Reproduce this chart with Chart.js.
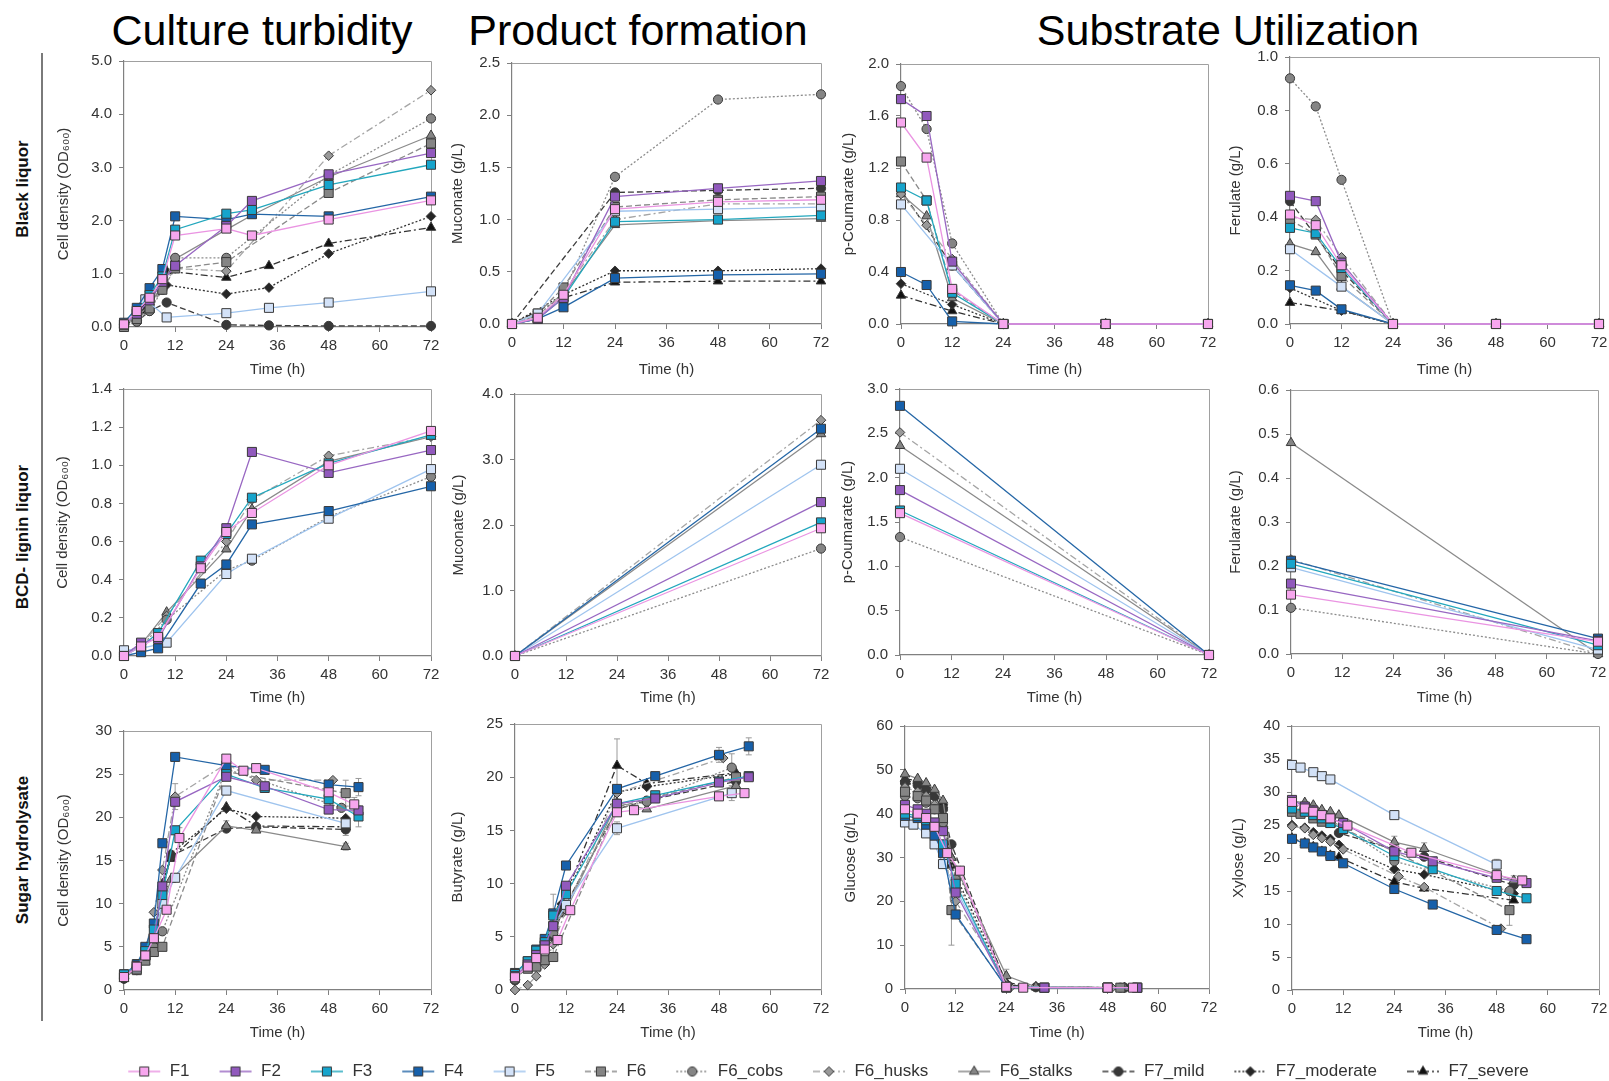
<!DOCTYPE html>
<html><head><meta charset="utf-8">
<script src="https://cdn.jsdelivr.net/npm/chart.js@4.4.1/dist/chart.umd.min.js"></script>
<style>
html,body{margin:0;padding:0;background:#fff}
body{width:1609px;height:1081px;position:relative;overflow:hidden;font-family:"Liberation Sans",Arial,sans-serif}
.ttl{position:absolute;top:9px;font-size:43px;line-height:43px;color:#000;white-space:nowrap;transform:translateX(-50%)}
.row{position:absolute;left:23px;font-weight:bold;font-size:17px;color:#111;white-space:nowrap;transform:translate(-50%,-50%) rotate(-90deg)}
.sep{position:absolute;left:41px;top:53px;width:1.5px;height:968px;background:#7a7a7a}
canvas{position:absolute}
</style></head>
<body>
<div class="ttl" style="left:262px">Culture turbidity</div>
<div class="ttl" style="left:638px">Product formation</div>
<div class="ttl" style="left:1228px">Substrate Utilization</div>
<div class="row" style="top:189px">Black liquor</div>
<div class="row" style="top:537px">BCD- lignin liquor</div>
<div class="row" style="top:850px">Sugar hydrolysate</div>
<div class="sep"></div>
<script>
// ---------------- DATA ----------------
const SERIES = ['F1','F2','F3','F4','F5','F6','F6_cobs','F6_husks','F6_stalks','F7_mild','F7_moderate','F7_severe'];
const TIME_MAX = 72, TIME_STEP = 12;

// Black liquor - cell density (OD600)
const BL_OD = {
 F1:[[0,0.05],[3,0.3],[6,0.55],[9,0.9],[12,1.72],[24,1.85],[30,1.72],[48,2.02],[72,2.38]],
 F2:[[0,0.05],[3,0.25],[6,0.5],[9,0.85],[12,1.15],[24,1.9],[30,2.37],[48,2.87],[72,3.27]],
 F3:[[0,0.05],[3,0.3],[6,0.6],[9,0.95],[12,1.83],[24,2.13],[30,2.2],[48,2.67],[72,3.05]],
 F4:[[0,0.08],[3,0.36],[6,0.73],[9,1.09],[12,2.08],[24,2.02],[30,2.12],[48,2.08],[72,2.45]],
 F5:[[0,0.05],[3,0.25],[5,0.52],[10,0.18],[24,0.26],[34,0.36],[48,0.46],[72,0.67]],
 F6:[[0,0.0],[3,0.15],[6,0.35],[9,0.7],[12,1.1],[24,1.22],[48,2.52],[72,3.45]],
 F6_cobs:[[0,0.0],[3,0.1],[6,0.3],[9,0.7],[12,1.3],[24,1.3],[48,2.85],[72,3.92]],
 F6_husks:[[0,0.0],[3,0.12],[6,0.35],[9,0.75],[12,1.1],[24,1.05],[48,3.22],[72,4.45]],
 F6_stalks:[[0,0.05],[3,0.2],[6,0.4],[9,0.8],[12,1.28],[24,1.83],[30,2.1],[48,2.82],[72,3.6]],
 F7_mild:[[0,0.05],[3,0.1],[6,0.3],[10,0.46],[24,0.04],[34,0.03],[48,0.02],[72,0.02]],
 F7_moderate:[[0,0.05],[3,0.15],[5,0.4],[10,0.79],[24,0.62],[34,0.74],[48,1.38],[72,2.08]],
 F7_severe:[[0,0.05],[3,0.15],[5,0.3],[10,1.05],[24,0.93],[34,1.15],[48,1.57],[72,1.87]]
};
// Black liquor - muconate (g/L)
const BL_MUC = {
 F1:[[0,0],[6,0.06],[12,0.28],[24,1.1],[48,1.17],[72,1.19]],
 F2:[[0,0],[6,0.05],[12,0.25],[24,1.22],[48,1.3],[72,1.37]],
 F3:[[0,0],[6,0.05],[12,0.25],[24,0.98],[48,1.0],[72,1.04]],
 F4:[[0,0],[6,0.05],[12,0.16],[24,0.44],[48,0.47],[72,0.48]],
 F5:[[0,0],[6,0.1],[24,1.08],[48,1.1],[72,1.12]],
 F6:[[0,0],[6,0.1],[12,0.35],[24,1.12],[48,1.19],[72,1.22]],
 F6_cobs:[[0,0],[6,0.08],[12,0.3],[24,1.41],[48,2.15],[72,2.2]],
 F6_husks:[[0,0],[6,0.08],[12,0.3],[24,1.0],[48,1.15],[72,1.15]],
 F6_stalks:[[0,0],[6,0.05],[12,0.28],[24,0.95],[48,0.99],[72,1.01]],
 F7_mild:[[0,0],[24,1.26],[48,1.28],[72,1.3]],
 F7_moderate:[[0,0],[12,0.28],[24,0.51],[48,0.51],[72,0.53]],
 F7_severe:[[0,0],[12,0.25],[24,0.4],[48,0.41],[72,0.41]]
};
// Black liquor - p-coumarate (g/L)
const BL_PCA = {
 F1:[[0,1.55],[6,1.28],[12,0.27],[24,0],[48,0],[72,0]],
 F2:[[0,1.73],[6,1.6],[12,0.48],[24,0],[48,0],[72,0]],
 F3:[[0,1.05],[6,0.95],[12,0.24],[24,0],[48,0],[72,0]],
 F4:[[0,0.4],[6,0.3],[12,0.02],[24,0],[48,0],[72,0]],
 F5:[[0,0.92],[12,0.45],[24,0],[48,0],[72,0]],
 F6:[[0,1.25],[6,0.95],[12,0.26],[24,0],[48,0],[72,0]],
 F6_cobs:[[0,1.83],[6,1.5],[12,0.62],[24,0],[48,0],[72,0]],
 F6_husks:[[0,1.0],[6,0.76],[12,0.5],[24,0],[48,0],[72,0]],
 F6_stalks:[[0,1.0],[6,0.83],[12,0.2],[24,0],[48,0],[72,0]],
 F7_mild:[[0,1.03],[12,0.45],[24,0],[48,0],[72,0]],
 F7_moderate:[[0,0.31],[12,0.15],[24,0],[48,0],[72,0]],
 F7_severe:[[0,0.22],[12,0.1],[24,0],[48,0],[72,0]]
};
// Black liquor - ferulate (g/L)
const BL_FER = {
 F1:[[0,0.41],[6,0.37],[12,0.22],[24,0],[48,0],[72,0]],
 F2:[[0,0.48],[6,0.46],[12,0.23],[24,0],[48,0],[72,0]],
 F3:[[0,0.36],[6,0.34],[12,0.21],[24,0],[48,0],[72,0]],
 F4:[[0,0.145],[6,0.125],[12,0.055],[24,0],[48,0],[72,0]],
 F5:[[0,0.28],[12,0.14],[24,0],[48,0],[72,0]],
 F6:[[0,0.39],[6,0.335],[12,0.18],[24,0],[48,0],[72,0]],
 F6_cobs:[[0,0.92],[6,0.815],[12,0.54],[24,0],[48,0],[72,0]],
 F6_husks:[[0,0.4],[6,0.39],[12,0.25],[24,0],[48,0],[72,0]],
 F6_stalks:[[0,0.3],[6,0.27],[12,0.14],[24,0],[48,0],[72,0]],
 F7_mild:[[0,0.46],[12,0.2],[24,0],[48,0],[72,0]],
 F7_moderate:[[0,0.135],[12,0.05],[24,0],[48,0],[72,0]],
 F7_severe:[[0,0.08],[12,0.05],[24,0],[48,0],[72,0]]
};
// BCD lignin liquor - cell density
const BCD_OD = {
 F1:[[0,0.0],[4,0.05],[8,0.1],[18,0.46],[24,0.65],[30,0.75],[48,1.0],[72,1.18]],
 F2:[[0,0.0],[4,0.07],[8,0.09],[18,0.47],[24,0.67],[30,1.07],[48,0.96],[72,1.08]],
 F3:[[0,0.0],[4,0.05],[8,0.12],[18,0.5],[24,0.64],[30,0.83],[48,1.01],[72,1.16]],
 F4:[[0,0.0],[4,0.02],[8,0.04],[18,0.38],[24,0.48],[30,0.69],[48,0.76],[72,0.89]],
 F5:[[0,0.03],[4,0.04],[10,0.07],[24,0.43],[30,0.51],[48,0.72],[72,0.98]],
 F6_cobs:[[0,0.01],[4,0.05],[10,0.19],[24,0.45],[30,0.5],[48,0.73],[72,0.94]],
 F6_husks:[[0,0.01],[4,0.06],[10,0.21],[24,0.6],[30,0.82],[48,1.05],[72,1.15]],
 F6_stalks:[[0,0.01],[4,0.06],[10,0.23],[24,0.56],[30,0.77],[48,1.02],[72,1.15]]
};
// BCD lignin liquor - muconate
const BCD_MUC = {
 F1:[[0,0],[72,1.95]], F2:[[0,0],[72,2.35]], F3:[[0,0],[72,2.04]], F4:[[0,0],[72,3.47]],
 F5:[[0,0],[72,2.92]], F6_cobs:[[0,0],[72,1.64]], F6_husks:[[0,0],[72,3.6]], F6_stalks:[[0,0],[72,3.39]]
};
// BCD lignin liquor - p-coumarate
const BCD_PCA = {
 F1:[[0,1.6],[72,0]], F2:[[0,1.86],[72,0]], F3:[[0,1.63],[72,0]], F4:[[0,2.81],[72,0]],
 F5:[[0,2.1],[72,0]], F6_cobs:[[0,1.33],[72,0]], F6_husks:[[0,2.51],[72,0]], F6_stalks:[[0,2.36],[72,0]]
};
// BCD lignin liquor - ferulate
const BCD_FER = {
 F1:[[0,0.135],[72,0.028]], F2:[[0,0.16],[72,0.03]], F3:[[0,0.205],[72,0.02]], F4:[[0,0.212],[72,0.035]],
 F5:[[0,0.197],[72,0.01]], F6_cobs:[[0,0.105],[72,0]], F6_husks:[[0,0.215],[72,0]], F6_stalks:[[0,0.48],[72,0]]
};
// Sugar hydrolysate - cell density
const SH_OD = {
 F1:[[0,1.5],[3,2.7],[5,4],[7,6],[10,9.3],[13,17.6],[24,26.8],[28,25.4],[31,25.7],[48,22.9],[54,21.5]],
 F2:[[0,1.5],[3,2.8],[5,4],[7,6],[9,12],[12,21.8],[24,24.7],[33,23.6],[48,20.9],[55,20.8]],
 F3:[[0,1.8],[3,2.8],[5,4.5],[7,7],[9,11],[12,18.5],[24,25],[33,23.4],[48,22.1],[55,20.1]],
 F4:[[0,1.8],[3,3.0],[5,5.0],[7,7.7],[9,17.0],[12,27.0],[24,26.0],[33,25.5],[48,23.8],[55,23.5]],
 F5:[[0,1.8],[3,2.5],[5,4],[7,6],[9,10],[12,13],[24,23.1],[52,19.3]],
 F6:[[0,1.5],[3,2.3],[5,3.4],[7,4.4],[9,5.0],[24,25.3],[52,22.8]],
 F6_cobs:[[0,1.5],[3,2.3],[5,3.5],[7,5],[9,6.8],[24,25.6],[51,21.1]],
 F6_husks:[[0,1.5],[3,2.5],[5,4.5],[7,9.0],[9,13.9],[12,22.4],[24,26.2],[31,24.3],[49,24.3]],
 F6_stalks:[[0,1.5],[3,2.3],[5,3.3],[7,5],[9,9.8],[11,12.8],[24,19],[31,18.5],[52,16.6]],
 F7_mild:[[0,1.3],[3,2.6],[5,3.8],[7,5.8],[9,11.5],[11,15.5],[24,18.7],[31,18.9],[52,18.6]],
 F7_moderate:[[0,1.3],[3,2.6],[5,3.9],[7,5.9],[9,12],[11,15.8],[24,21],[31,20.1],[52,19.9]],
 F7_severe:[[0,1.3],[3,2.7],[5,3.9],[7,6],[9,12.3],[11,15.2],[24,21.2],[31,19],[52,18.9]]
};
const SH_OD_ERR = {
 F1:[[13,1.2],[54,0.8]], F6_husks:[[12,1.5]], F4:[[55,1.0]], F3:[[55,1.2]], F6:[[52,1.5]], F6_stalks:[[24,0.6],[52,0.4]], F7_mild:[[52,0.7]]
};
// Sugar hydrolysate - butyrate
const SH_BUT = {
 F1:[[0,1.2],[3,2.2],[5,3],[7,3.8],[10,4.7],[13,7.5],[24,16.7],[28,16.9],[48,18.2],[54,18.5]],
 F2:[[0,1.3],[3,2.4],[5,3.3],[7,4.2],[9,6],[12,9.8],[24,17.5],[33,18],[48,19.5],[55,20]],
 F3:[[0,1.5],[3,2.7],[5,3.7],[7,4.5],[9,7],[12,9],[24,17.5],[33,18.3],[48,19.6],[55,20.1]],
 F4:[[0,1.6],[3,2.7],[5,3.8],[7,4.8],[9,7.2],[12,11.7],[24,18.9],[33,20.1],[48,22.1],[55,22.9]],
 F5:[[0,1.2],[5,3],[9,6],[12,8],[24,15.2],[51,18.5]],
 F6:[[0,1.5],[3,2.0],[5,2.2],[7,2.8],[9,3.1],[24,17.2],[52,20]],
 F6_cobs:[[0,1],[3,2.2],[5,3],[7,4],[9,5.3],[12,8],[24,17],[31,17.7],[51,20.9]],
 F6_husks:[[0,0],[3,0.46],[5,1.3],[7,2.4],[9,4.3],[12,7.5],[24,18.5],[49,21.8]],
 F6_stalks:[[0,1.2],[3,2],[5,2.8],[7,4],[9,6.2],[12,7.5],[24,17.6],[31,17],[52,19.2]],
 F7_mild:[[0,0.9],[3,2.3],[5,3],[7,4.5],[9,5],[11,7.3],[24,17],[31,17.8],[52,19.6]],
 F7_moderate:[[0,1],[3,2.4],[5,3.2],[7,4.4],[9,5.8],[11,8.1],[24,18.6],[31,19.1],[52,20.3]],
 F7_severe:[[0,1],[3,2.3],[5,3.2],[7,4.2],[9,6],[11,8],[24,21.1],[31,19.4],[52,20.4]]
};
const SH_BUT_ERR = {
 F7_severe:[[24,2.5]], F6_stalks:[[9,2.8]], F4:[[48,0.7],[55,0.8]], F6_cobs:[[51,1.3]], F5:[[24,0.6],[51,0.7]]
};
// Sugar hydrolysate - glucose
const SH_GLC = {
 F1:[[0,41],[3,40],[5,39],[7,37],[10,31],[13,27],[24,0.5],[28,0.3],[48,0.3],[54,0.3]],
 F2:[[0,42],[3,41],[5,40],[7,38],[9,36],[12,22],[24,0.4],[33,0.3],[48,0.3],[55,0.3]],
 F3:[[0,40],[3,39.5],[5,38.5],[7,37],[9,33],[12,24],[24,0.4],[33,0.3],[48,0.3],[55,0.3]],
 F4:[[0,39.5],[3,39],[5,37.5],[7,35],[9,31],[12,17],[24,0.3],[33,0.3],[48,0.3],[55,0.3]],
 F5:[[0,38],[2,37.5],[5,35.5],[7,33],[9,28.5],[24,0.5],[48,0.3]],
 F6:[[0,45],[3,44],[5,43],[7,41],[9,39],[11,18],[24,0.5],[51,0.3]],
 F6_cobs:[[0,44],[3,43.5],[5,42.5],[7,41],[9,38],[12,25],[24,0.5],[51,0.3]],
 F6_husks:[[0,46],[3,45],[5,44],[7,42],[9,37],[12,20],[25,0.4],[49,0.3]],
 F6_stalks:[[0,49],[3,48],[5,47],[7,45.5],[9,43],[11,30],[24,3],[31,0.5],[52,0.3]],
 F7_mild:[[0,47],[3,46.5],[5,45.5],[7,44],[9,41],[11,33],[24,1],[31,0.4],[52,0.3]],
 F7_moderate:[[0,47.5],[3,47],[5,46],[7,44.5],[9,42],[11,28],[24,1],[31,0.4],[52,0.3]],
 F7_severe:[[0,48],[3,47.5],[5,46.5],[7,45],[9,42],[11,30],[24,1.5],[31,0.4],[52,0.3]]
};
const SH_GLC_ERR = { F6:[[11,8]], F6_stalks:[[24,1.5]] };
// Sugar hydrolysate - xylose
const SH_XYL = {
 F1:[[0,28.5],[3,27.5],[5,27],[7,26.5],[9,26],[13,24.9],[28,20.8],[48,17.4],[54,16.6]],
 F2:[[0,28.8],[3,27.8],[5,27.2],[7,26.5],[9,26],[12,25.3],[24,21],[33,19.5],[48,17],[55,16.2]],
 F3:[[0,27.5],[3,27],[5,26.5],[7,26],[9,25.3],[12,24.4],[24,20.3],[33,18.3],[48,15],[55,13.9]],
 F4:[[0,22.9],[3,22.2],[5,21.6],[7,21],[9,20.3],[12,19.2],[24,15.3],[33,12.95],[48,9.1],[55,7.7]],
 F5:[[0,34.1],[2,33.7],[5,33],[7,32.4],[9,31.9],[24,26.5],[48,19]],
 F6:[[0,27],[2,26.7],[5,26],[7,25.5],[9,25.3],[24,21],[51,12.1]],
 F6_cobs:[[0,28],[3,27.5],[5,27.2],[7,26.5],[9,25.8],[24,19.5],[51,15]],
 F6_husks:[[0,24.8],[3,24.5],[5,23.5],[7,23],[9,22.5],[12,21.3],[25,17.2],[31,15.6],[49,9.3]],
 F6_stalks:[[0,28.6],[3,28.4],[5,28],[7,27.3],[9,27],[11,26.5],[24,22.4],[31,21.4],[52,16.6]],
 F7_mild:[[0,27.9],[3,27.8],[5,27.4],[7,26.8],[9,26],[11,23.8],[24,21.3],[31,20.2],[52,15.9]],
 F7_moderate:[[0,25],[3,24.6],[5,23.9],[7,23.4],[9,22.9],[11,22],[24,18.3],[31,17.5],[52,14.6]],
 F7_severe:[[0,23],[3,22.3],[5,21.7],[7,21],[9,20.4],[11,20.1],[24,16.4],[31,15.4],[52,13.6]]
};
const SH_XYL_ERR = { F6:[[51,2.3]], F5:[[48,0.8]], F6_stalks:[[24,0.9],[31,0.9],[52,0.7]] };

// ---------------- STYLES ----------------
const STYLE = {
 F1:{line:'#ea94e2', fill:'#f7a6ee', shape:'rect', r:6.4, dash:[]},
 F2:{line:'#9867c2', fill:'#9159bd', shape:'rect', r:6.4, dash:[]},
 F3:{line:'#22a7bd', fill:'#16a4cc', shape:'rect', r:6.4, dash:[]},
 F4:{line:'#2466a6', fill:'#1660ab', shape:'rect', r:6.4, dash:[]},
 F5:{line:'#9fc4ee', fill:'#d3e2f8', shape:'rect', r:6.4, dash:[]},
 F6:{line:'#8a8a8a', fill:'#858585', shape:'rect', r:6.4, dash:[6,3]},
 F6_cobs:{line:'#8c8c8c', fill:'#858585', shape:'circle', r:4.6, dash:[2,2]},
 F6_husks:{line:'#a5a5a5', fill:'#999999', shape:'rectRot', r:4.8, dash:[7,3,2,3]},
 F6_stalks:{line:'#8a8a8a', fill:'#858585', shape:'triangle', r:5.5, dash:[]},
 F7_mild:{line:'#3d3d3d', fill:'#383838', shape:'circle', r:4.6, dash:[6,3]},
 F7_moderate:{line:'#333333', fill:'#262626', shape:'rectRot', r:4.8, dash:[2,2]},
 F7_severe:{line:'#333333', fill:'#111111', shape:'triangle', r:5.5, dash:[7,3,2,3]}
};
const FONT = "'Liberation Sans', Arial, sans-serif";
const TXT = '#333';

const PANELS = [
 {d:BL_OD,  l:124, t:57,  r:431,  b:327, max:5.0, step:1.0, dec:1, title:'Cell density (OD₆₀₀)', yw:73, xh:56},
 {d:BL_MUC, l:512, t:59,  r:821,  b:324, max:2.5, step:0.5, dec:1, title:'Muconate (g/L)', yw:67, xh:59},
 {d:BL_PCA, l:901, t:60,  r:1208, b:324, max:2.0, step:0.4, dec:1, title:'p-Coumarate (g/L)', yw:65, xh:59},
 {d:BL_FER, l:1290,t:53,  r:1599, b:324, max:1.0, step:0.2, dec:1, title:'Ferulate (g/L)', yw:67, xh:59},
 {d:BCD_OD, l:124, t:385, r:431,  b:656, max:1.4, step:0.2, dec:1, title:'Cell density (OD₆₀₀)', yw:74, xh:55},
 {d:BCD_MUC,l:515, t:390, r:821,  b:656, max:4.0, step:1.0, dec:1, title:'Muconate (g/L)', yw:69, xh:55},
 {d:BCD_PCA,l:900, t:385, r:1209, b:655, max:3.0, step:0.5, dec:1, title:'p-Coumarate (g/L)', yw:65, xh:56},
 {d:BCD_FER,l:1291,t:386, r:1598, b:654, max:0.6, step:0.1, dec:1, title:'Ferularate (g/L)', yw:68, xh:57},
 {d:SH_OD,  e:SH_OD_ERR,  l:124, t:727, r:431,  b:990, max:30, step:5, dec:0, title:'Cell density (OD₆₀₀)', yw:73, xh:56},
 {d:SH_BUT, e:SH_BUT_ERR, l:515, t:720, r:821,  b:990, max:25, step:5, dec:0, title:'Butyrate (g/L)', yw:70, xh:56},
 {d:SH_GLC, e:SH_GLC_ERR, l:905, t:722, r:1209, b:989, max:60, step:10, dec:0, title:'Glucose (g/L)', yw:67, xh:57},
 {d:SH_XYL, e:SH_XYL_ERR, l:1292,t:722, r:1599, b:990, max:40, step:5, dec:0, title:'Xylose (g/L)', yw:66, xh:56}
];

const framePlugin = {
  id:'frame',
  beforeDatasetsDraw(chart){
    const {ctx, chartArea:a} = chart;
    ctx.save();
    ctx.strokeStyle = '#a0a0a0'; ctx.lineWidth = 1;
    ctx.beginPath();
    ctx.moveTo(a.left, a.top + 0.5); ctx.lineTo(a.right + 0.5, a.top + 0.5); ctx.lineTo(a.right + 0.5, a.bottom);
    ctx.stroke();
    ctx.restore();
  }
};
const errPlugin = {
  id:'errbars',
  beforeDatasetsDraw(chart, args, opts){
    const err = chart.options.plugins.errbars && chart.options.plugins.errbars.data;
    if (!err) return;
    const {ctx} = chart; const xs = chart.scales.x, ys = chart.scales.y;
    ctx.save(); ctx.strokeStyle = '#9a9a9a'; ctx.lineWidth = 1;
    chart.data.datasets.forEach(ds => {
      const list = err[ds.label]; if (!list) return;
      list.forEach(([t, e]) => {
        const pt = ds.data.find(p => p.x === t); if (!pt) return;
        const x = xs.getPixelForValue(t), y1 = ys.getPixelForValue(pt.y - e), y2 = ys.getPixelForValue(pt.y + e);
        ctx.beginPath();
        ctx.moveTo(x, y1); ctx.lineTo(x, y2);
        ctx.moveTo(x - 3, y1); ctx.lineTo(x + 3, y1);
        ctx.moveTo(x - 3, y2); ctx.lineTo(x + 3, y2);
        ctx.stroke();
      });
    });
    ctx.restore();
  }
};

function makeDatasets(d){
  return SERIES.filter(s => d[s]).map(s => {
    const st = STYLE[s];
    return {
      label:s,
      data:d[s].map(([x,y]) => ({x, y})),
      borderColor:st.line, borderWidth:1.3, borderDash:st.dash,
      pointStyle:st.shape, pointRadius:st.r, pointBackgroundColor:st.fill,
      pointBorderColor:'#3a3a3a', pointBorderWidth:1, pointHoverRadius:st.r,
      tension:0, clip:false, fill:false
    };
  });
}

function makePanel(p){
  const PT = 12, PR = 16;
  const c = document.createElement('canvas');
  const w = p.r - p.l + p.yw + PR, h = p.b - p.t + PT + p.xh;
  c.width = w; c.height = h;
  c.style.left = (p.l - p.yw) + 'px'; c.style.top = (p.t - PT) + 'px';
  c.style.width = w + 'px'; c.style.height = h + 'px';
  document.body.appendChild(c);
  new Chart(c, {
    type:'line',
    data:{datasets:makeDatasets(p.d)},
    options:{
      responsive:false, animation:false, devicePixelRatio:1,
      layout:{padding:{top:PT, right:PR, left:0, bottom:0}},
      plugins:{legend:{display:false}, tooltip:{enabled:false}, errbars:{data:p.e || null}},
      scales:{
        x:{type:'linear', min:0, max:TIME_MAX,
           ticks:{stepSize:TIME_STEP, color:TXT, font:{family:FONT, size:15}, padding:5, maxRotation:0},
           grid:{drawOnChartArea:false, drawTicks:true, tickLength:5, color:'#808080'},
           border:{display:true, color:'#808080', width:1.2},
           title:{display:true, text:'Time (h)', color:TXT, font:{family:FONT, size:15}},
           afterFit:s => { s.height = p.xh; }},
        y:{type:'linear', min:0, max:p.max,
           ticks:{stepSize:p.step, color:TXT, font:{family:FONT, size:15}, padding:7,
                  callback:v => Number(v).toFixed(p.dec)},
           grid:{drawOnChartArea:false, drawTicks:true, tickLength:5, color:'#808080'},
           border:{display:true, color:'#808080', width:1.2},
           title:{display:true, text:p.title, color:TXT, font:{family:FONT, size:15}},
           afterFit:s => { s.width = p.yw; }}
      }
    },
    plugins:[framePlugin, errPlugin]
  });
}
PANELS.forEach(makePanel);

// ---------------- LEGEND ----------------
function drawMarker(g, shape, x, y, r){
  g.beginPath();
  if (shape === 'rect'){ const s = r*Math.SQRT1_2; g.rect(x-s, y-s, 2*s, 2*s); }
  else if (shape === 'circle'){ g.arc(x, y, r, 0, Math.PI*2); }
  else if (shape === 'rectRot'){ g.moveTo(x, y-r); g.lineTo(x+r, y); g.lineTo(x, y+r); g.lineTo(x-r, y); g.closePath(); }
  else if (shape === 'triangle'){
    g.moveTo(x, y-r); g.lineTo(x + r*Math.sin(Math.PI*2/3), y - r*Math.cos(Math.PI*2/3));
    g.lineTo(x - r*Math.sin(Math.PI*2/3), y - r*Math.cos(Math.PI*2/3)); g.closePath();
  }
  g.fill(); g.stroke();
}
function glyph(s){
  const st = STYLE[s];
  const c = document.createElement('canvas'); c.width = 34; c.height = 16;
  const g = c.getContext('2d');
  g.strokeStyle = st.line; g.lineWidth = 1.5; g.setLineDash(st.dash);
  g.beginPath(); g.moveTo(1, 8); g.lineTo(33, 8); g.stroke();
  g.setLineDash([]);
  g.fillStyle = st.fill; g.strokeStyle = '#3a3a3a'; g.lineWidth = 1;
  drawMarker(g, st.shape, 17, 8, st.r);
  return c;
}
(function(){
  const c = document.createElement('canvas');
  const W = 1500, H = 220;
  c.width = W; c.height = H; c.style.width = W+'px'; c.style.height = H+'px';
  c.style.left = '78px'; c.style.top = '1034px';
  document.body.appendChild(c);
  const glyphs = {};
  SERIES.forEach(s => glyphs[s] = glyph(s));
  new Chart(c, {
    type:'line',
    data:{datasets:SERIES.map(s => ({label:s, data:[]}))},
    options:{
      responsive:false, animation:false, devicePixelRatio:1,
      scales:{x:{display:false}, y:{display:false}},
      plugins:{
        tooltip:{enabled:false},
        legend:{display:true, position:'top',
          labels:{
            usePointStyle:true, pointStyleWidth:34, padding:29,
            color:TXT, font:{family:FONT, size:17},
            generateLabels:chart => SERIES.map((s,i) => ({
              text:s, pointStyle:glyphs[s], fillStyle:STYLE[s].fill, strokeStyle:STYLE[s].line,
              lineWidth:0, hidden:false, datasetIndex:i, fontColor:TXT
            }))
          }}
      }
    }
  });
})();
</script>
</body></html>
